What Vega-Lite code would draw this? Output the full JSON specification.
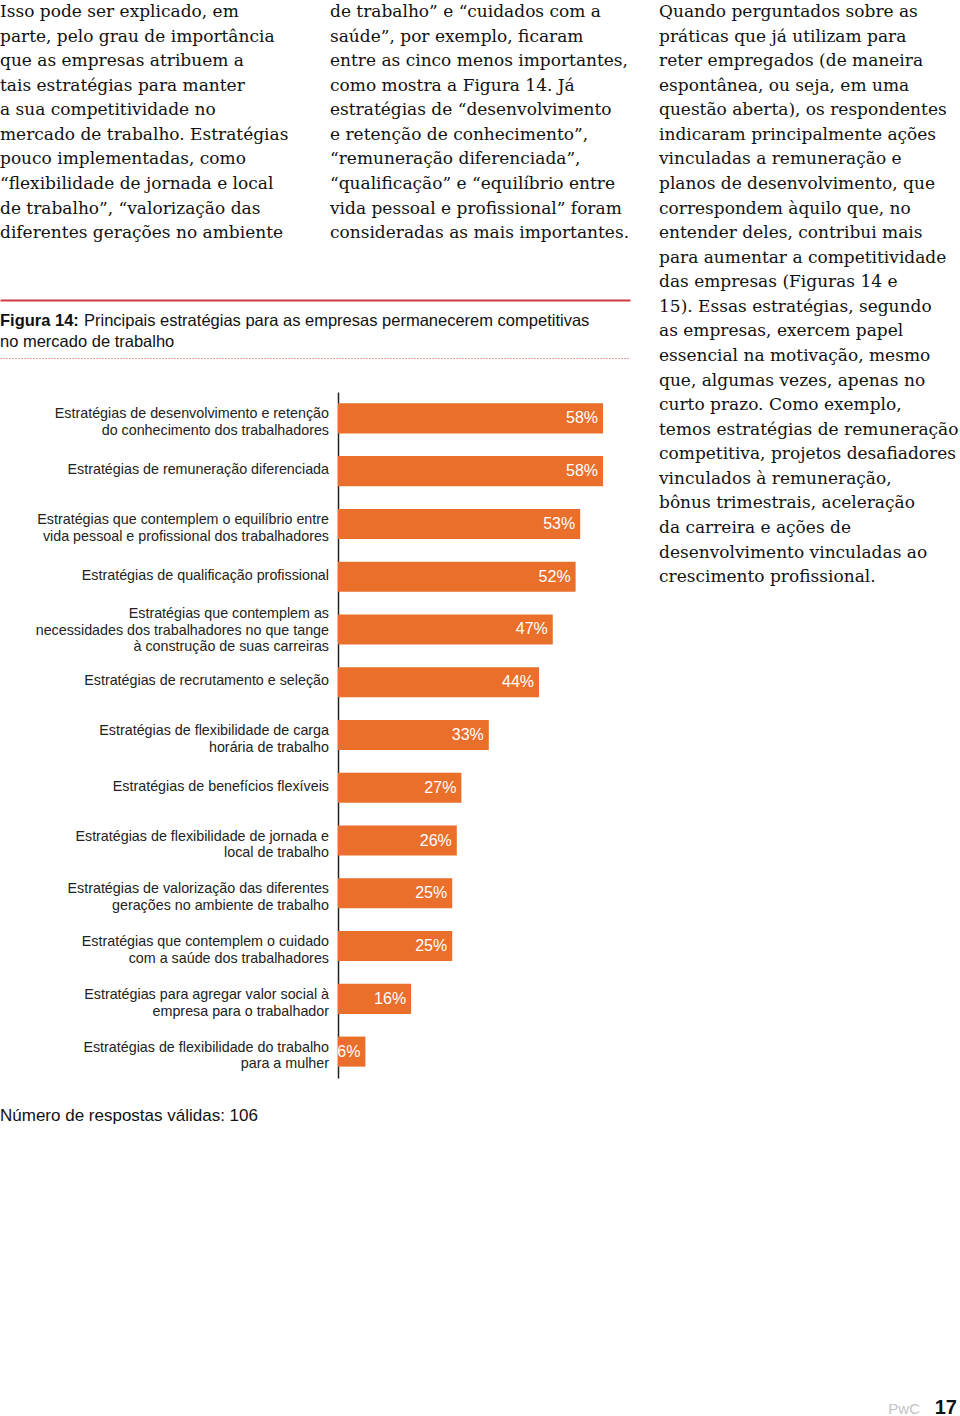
{
  "$schema": "https://vega.github.io/schema/vega-lite/v6.json",
  "padding": 0,
  "background": "white",
  "config": {"view": {"stroke": null}, "font": "Liberation Sans"},
  "datasets": {
    "bars": [
      {"label": "Estratégias de desenvolvimento e retenção\ndo conhecimento dos trabalhadores", "value": 0.58},
      {"label": "Estratégias de remuneração diferenciada", "value": 0.58},
      {"label": "Estratégias que contemplem o equilíbrio entre\nvida pessoal e profissional dos trabalhadores", "value": 0.53},
      {"label": "Estratégias de qualificação profissional", "value": 0.52},
      {"label": "Estratégias que contemplem as\nnecessidades dos trabalhadores no que tange\nà construção de suas carreiras", "value": 0.47},
      {"label": "Estratégias de recrutamento e seleção", "value": 0.44},
      {"label": "Estratégias de flexibilidade de carga\nhorária de trabalho", "value": 0.33},
      {"label": "Estratégias de benefícios flexíveis", "value": 0.27},
      {"label": "Estratégias de flexibilidade de jornada e\nlocal de trabalho", "value": 0.26},
      {"label": "Estratégias de valorização das diferentes\ngerações no ambiente de trabalho", "value": 0.25},
      {"label": "Estratégias que contemplem o cuidado\ncom a saúde dos trabalhadores", "value": 0.25},
      {"label": "Estratégias para agregar valor social à\nempresa para o trabalhador", "value": 0.16},
      {"label": "Estratégias de flexibilidade do trabalho\npara a mulher", "value": 0.06}
    ]
  },
  "bounds": "full",
  "spacing": 29,
  "hconcat": [
    {
      "bounds": "full",
      "spacing": 0,
      "vconcat": [
        {
          "bounds": "flush",
          "spacing": 0,
          "hconcat": [
            {
              "width": 330,
              "height": 300,
              "data": {"values": [{"body": "Isso pode ser explicado, em\nparte, pelo grau de importância\nque as empresas atribuem a\ntais estratégias para manter\na sua competitividade no\nmercado de trabalho. Estratégias\npouco implementadas, como\n“flexibilidade de jornada e local\nde trabalho”, “valorização das\ndiferentes gerações no ambiente"}]},
              "mark": {"type": "text", "font": "DejaVu Serif", "fontSize": 17, "lineBreak": "\n", "lineHeight": 24.57, "baseline": "line-top", "align": "left", "color": "#111111"},
              "encoding": {
                "text": {"field": "body"},
                "x": {"datum": 0, "type": "quantitative", "scale": {"domain": [0, 1]}, "axis": null},
                "y": {"datum": 1, "type": "quantitative", "scale": {"domain": [0, 1]}, "axis": null}
              }
            },
            {
              "width": 300,
              "height": 300,
              "data": {"values": [{"body": "de trabalho” e “cuidados com a\nsaúde”, por exemplo, ficaram\nentre as cinco menos importantes,\ncomo mostra a Figura 14. Já\nestratégias de “desenvolvimento\ne retenção de conhecimento”,\n“remuneração diferenciada”,\n“qualificação” e “equilíbrio entre\nvida pessoal e profissional” foram\nconsideradas as mais importantes."}]},
              "mark": {"type": "text", "font": "DejaVu Serif", "fontSize": 17, "lineBreak": "\n", "lineHeight": 24.57, "baseline": "line-top", "align": "left", "color": "#111111"},
              "encoding": {
                "text": {"field": "body"},
                "x": {"datum": 0, "type": "quantitative", "scale": {"domain": [0, 1]}, "axis": null},
                "y": {"datum": 1, "type": "quantitative", "scale": {"domain": [0, 1]}, "axis": null}
              }
            }
          ]
        },
        {
          "bounds": "full",
          "spacing": 34,
          "vconcat": [
            {
              "width": 630,
              "height": 58,
              "data": {"values": [{"bold": "Figura 14:", "line1": "Principais estratégias para as empresas permanecerem competitivas", "line2": "no mercado de trabalho"}]},
              "layer": [
                {
                  "mark": {"type": "text", "fontSize": 16.5, "fontWeight": "bold", "baseline": "alphabetic", "align": "left", "dy": 26, "color": "#111111"},
                  "encoding": {
                    "text": {"field": "bold"},
                    "x": {"datum": 0, "type": "quantitative", "scale": {"domain": [0, 1]}, "axis": {"orient": "top", "labels": false, "ticks": false, "grid": false, "title": null, "domainColor": "#cf3a40", "domainWidth": 2}},
                    "y": {"datum": 1, "type": "quantitative", "scale": {"domain": [0, 1]}, "axis": null}
                  }
                },
                {
                  "mark": {"type": "text", "fontSize": 16.5, "baseline": "alphabetic", "align": "left", "dx": 84, "dy": 26, "color": "#111111"},
                  "encoding": {
                    "text": {"field": "line1"},
                    "x": {"datum": 0, "type": "quantitative", "axis": {"orient": "bottom", "labels": false, "ticks": false, "grid": false, "title": null, "domainColor": "#d0454a", "domainWidth": 1, "domainDash": [1, 2]}},
                    "y": {"datum": 1, "type": "quantitative", "axis": null}
                  }
                },
                {
                  "mark": {"type": "text", "fontSize": 16.5, "baseline": "alphabetic", "align": "left", "dy": 47, "color": "#111111"},
                  "encoding": {
                    "text": {"field": "line2"},
                    "x": {"datum": 0, "type": "quantitative", "axis": null},
                    "y": {"datum": 1, "type": "quantitative", "axis": null}
                  }
                }
              ],
              "resolve": {"axis": {"x": "independent"}}
            },
            {
              "bounds": "flush",
              "spacing": 0,
              "hconcat": [
                {
                  "width": 338,
                  "height": 686,
                  "title": {"text": "Número de respostas válidas: 106", "orient": "bottom", "anchor": "start", "frame": "group", "offset": 30, "fontSize": 17, "fontWeight": "normal", "color": "#111111", "font": "Liberation Sans"},
                  "data": {"name": "bars"},
                  "encoding": {
                    "text": {"field": "label"},
                    "y": {
                      "field": "label", "type": "nominal",
                      "sort": [
                        "Estratégias de desenvolvimento e retenção\ndo conhecimento dos trabalhadores",
                        "Estratégias de remuneração diferenciada",
                        "Estratégias que contemplem o equilíbrio entre\nvida pessoal e profissional dos trabalhadores",
                        "Estratégias de qualificação profissional",
                        "Estratégias que contemplem as\nnecessidades dos trabalhadores no que tange\nà construção de suas carreiras",
                        "Estratégias de recrutamento e seleção",
                        "Estratégias de flexibilidade de carga\nhorária de trabalho",
                        "Estratégias de benefícios flexíveis",
                        "Estratégias de flexibilidade de jornada e\nlocal de trabalho",
                        "Estratégias de valorização das diferentes\ngerações no ambiente de trabalho",
                        "Estratégias que contemplem o cuidado\ncom a saúde dos trabalhadores",
                        "Estratégias para agregar valor social à\nempresa para o trabalhador",
                        "Estratégias de flexibilidade do trabalho\npara a mulher"
                      ],
                      "scale": {"paddingInner": 0.43, "paddingOuter": 0.215}, "axis": null
                    },
                    "x": {"datum": 1, "type": "quantitative", "scale": {"domain": [0, 1]}, "axis": null}
                  },
                  "layer": [
                    {
                      "transform": [{"filter": "length(split(datum.label, '\\n')) == 1"}],
                      "mark": {"type": "text", "align": "right", "baseline": "middle", "dx": -9, "dy": -1, "fontSize": 14.3, "lineBreak": "\n", "lineHeight": 16.8, "color": "#222222"}
                    },
                    {
                      "transform": [{"filter": "length(split(datum.label, '\\n')) == 2"}],
                      "mark": {"type": "text", "align": "right", "baseline": "middle", "dx": -9, "dy": -4, "fontSize": 14.3, "lineBreak": "\n", "lineHeight": 16.8, "color": "#222222"}
                    },
                    {
                      "transform": [{"filter": "length(split(datum.label, '\\n')) == 3"}],
                      "mark": {"type": "text", "align": "right", "baseline": "middle", "dx": -9, "dy": -15, "fontSize": 14.3, "lineBreak": "\n", "lineHeight": 16.5, "color": "#222222"}
                    }
                  ]
                },
                {
                  "width": 292,
                  "height": 686,
                  "data": {"name": "bars"},
                  "encoding": {
                    "y": {
                      "field": "label", "type": "nominal",
                      "sort": [
                        "Estratégias de desenvolvimento e retenção\ndo conhecimento dos trabalhadores",
                        "Estratégias de remuneração diferenciada",
                        "Estratégias que contemplem o equilíbrio entre\nvida pessoal e profissional dos trabalhadores",
                        "Estratégias de qualificação profissional",
                        "Estratégias que contemplem as\nnecessidades dos trabalhadores no que tange\nà construção de suas carreiras",
                        "Estratégias de recrutamento e seleção",
                        "Estratégias de flexibilidade de carga\nhorária de trabalho",
                        "Estratégias de benefícios flexíveis",
                        "Estratégias de flexibilidade de jornada e\nlocal de trabalho",
                        "Estratégias de valorização das diferentes\ngerações no ambiente de trabalho",
                        "Estratégias que contemplem o cuidado\ncom a saúde dos trabalhadores",
                        "Estratégias para agregar valor social à\nempresa para o trabalhador",
                        "Estratégias de flexibilidade do trabalho\npara a mulher"
                      ],
                      "scale": {"paddingInner": 0.43, "paddingOuter": 0.215},
                      "axis": {"labels": false, "ticks": false, "grid": false, "title": null, "domainColor": "#222222", "domainWidth": 1.5}
                    },
                    "x": {"field": "value", "type": "quantitative", "scale": {"domain": [0, 0.639]}, "axis": null}
                  },
                  "layer": [
                    {"mark": {"type": "bar", "color": "#e96f2b"}},
                    {
                      "mark": {"type": "text", "align": "right", "baseline": "middle", "dx": -5, "fontSize": 16, "color": "#ffffff"},
                      "encoding": {"text": {"field": "value", "type": "quantitative", "format": ".0%"}}
                    }
                  ]
                }
              ]
            }
          ]
        }
      ]
    },
    {
      "width": 301,
      "height": 1416,
      "data": {"values": [{"body": "Quando perguntados sobre as\npráticas que já utilizam para\nreter empregados (de maneira\nespontânea, ou seja, em uma\nquestão aberta), os respondentes\nindicaram principalmente ações\nvinculadas a remuneração e\nplanos de desenvolvimento, que\ncorrespondem àquilo que, no\nentender deles, contribui mais\npara aumentar a competitividade\ndas empresas (Figuras 14 e\n15). Essas estratégias, segundo\nas empresas, exercem papel\nessencial na motivação, mesmo\nque, algumas vezes, apenas no\ncurto prazo. Como exemplo,\ntemos estratégias de remuneração\ncompetitiva, projetos desafiadores\nvinculados à remuneração,\nbônus trimestrais, aceleração\nda carreira e ações de\ndesenvolvimento vinculadas ao\ncrescimento profissional.", "brand": "PwC", "page": "17"}]},
      "layer": [
        {
          "mark": {"type": "text", "font": "DejaVu Serif", "fontSize": 17, "lineBreak": "\n", "lineHeight": 24.57, "baseline": "line-top", "align": "left", "color": "#111111"},
          "encoding": {
            "text": {"field": "body"},
            "x": {"datum": 0, "type": "quantitative", "scale": {"domain": [0, 1]}, "axis": null},
            "y": {"datum": 1, "type": "quantitative", "scale": {"domain": [0, 1]}, "axis": null}
          }
        },
        {
          "mark": {"type": "text", "fontSize": 20, "fontWeight": "bold", "align": "right", "baseline": "alphabetic", "dx": -3, "dy": -2, "color": "#111111"},
          "encoding": {
            "text": {"field": "page"},
            "x": {"datum": 1, "type": "quantitative", "axis": null},
            "y": {"datum": 0, "type": "quantitative", "axis": null}
          }
        },
        {
          "mark": {"type": "text", "fontSize": 15, "align": "right", "baseline": "alphabetic", "dx": -40, "dy": -2, "color": "#c4c4c4"},
          "encoding": {
            "text": {"field": "brand"},
            "x": {"datum": 1, "type": "quantitative", "axis": null},
            "y": {"datum": 0, "type": "quantitative", "axis": null}
          }
        }
      ]
    }
  ]
}
